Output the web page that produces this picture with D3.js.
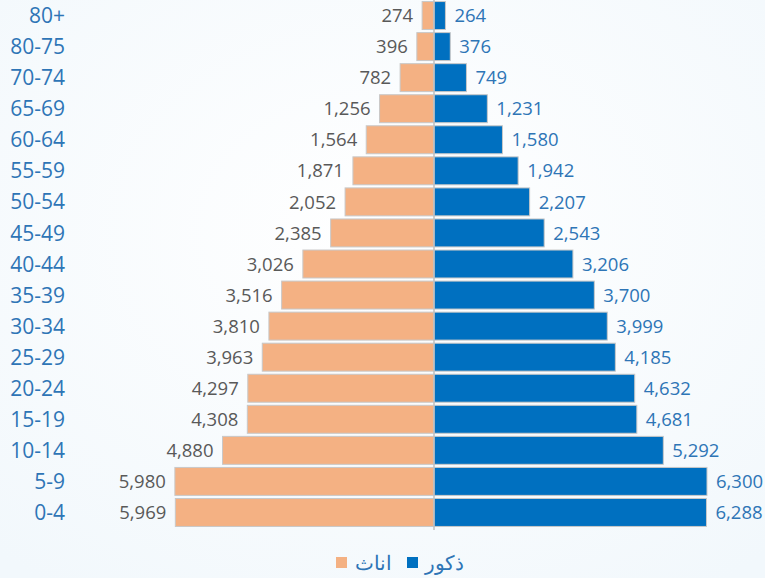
<!DOCTYPE html>
<html>
<head>
<meta charset="utf-8">
<script src="https://cdn.jsdelivr.net/npm/d3@7"></script>
<style>
  body { margin: 0; background: #fff; }
  svg { display: block; font-family: "Open Sans", "Noto Sans", sans-serif; }
</style>
</head>
<body>
<svg id="chart" width="765" height="578"></svg>
<script>
// age groups, top to bottom
const ageGroups = ["80+", "80-75", "70-74", "65-69", "60-64", "55-59", "50-54", "45-49",
    "40-44", "35-39", "30-34", "25-29", "20-24", "15-19", "10-14", "5-9", "0-4"];
const females = [274, 396, 782, 1256, 1564, 1871, 2052, 2385, 3026, 3516, 3810, 3963, 4297, 4308, 4880, 5980, 5969];
const males = [264, 376, 749, 1231, 1580, 1942, 2207, 2543, 3206, 3700, 3999, 4185, 4632, 4681, 5292, 6300, 6288];
const legendLabels = ["ذكور", "اناث"];

const svg = d3.select("#chart"),
    width = +svg.attr("width"),
    height = +svg.attr("height");

const center = 434;
const orange = "#F4B183", blue = "#0070C0";

// background
const defs = svg.append("defs");
const grad = defs.append("radialGradient").attr("id", "bg")
    .attr("cx", "50%").attr("cy", "40%").attr("r", "75%");
grad.append("stop").attr("offset", "0%").attr("stop-color", "#ffffff");
grad.append("stop").attr("offset", "100%").attr("stop-color", "#f2f8fc");
svg.append("rect").attr("width", width).attr("height", height).attr("fill", "url(#bg)");

const y = d3.scaleBand()
    .domain(ageGroups)
    .range([0, 528])
    .paddingInner(0.1)
    .paddingOuter(0.05);

const x = d3.scaleLinear()
    .domain([0, 6300])
    .range([0, 273]);

const rows = ageGroups.map((g, i) => ({ group: g, f: females[i], m: males[i] }));
const fmt = d3.format(",");

// female bars
svg.selectAll("rect.f").data(rows)
    .join("rect")
    .attr("class", "f")
    .attr("x", d => center - x(d.f))
    .attr("y", d => y(d.group))
    .attr("width", d => x(d.f))
    .attr("height", y.bandwidth())
    .attr("fill", orange)
    .attr("stroke", "#c8c8c8")
    .attr("stroke-width", 1);

// male bars
svg.selectAll("rect.m").data(rows)
    .join("rect")
    .attr("class", "m")
    .attr("x", center)
    .attr("y", d => y(d.group))
    .attr("width", d => x(d.m))
    .attr("height", y.bandwidth())
    .attr("fill", blue)
    .attr("stroke", "#c8c8c8")
    .attr("stroke-width", 1);

// center axis line
svg.append("line")
    .attr("x1", center).attr("x2", center)
    .attr("y1", 0).attr("y2", 530)
    .attr("stroke", "#bfbfbf").attr("stroke-width", 1.5);

// age labels
svg.selectAll("text.age").data(rows)
    .join("text")
    .attr("class", "age")
    .attr("x", 65)
    .attr("y", d => y(d.group) + y.bandwidth() / 2)
    .attr("dy", "0.36em")
    .attr("text-anchor", "end")
    .attr("font-size", 21)
    .attr("fill", "#2e75b6")
    .text(d => d.group);

// value labels
svg.selectAll("text.fv").data(rows)
    .join("text")
    .attr("class", "fv")
    .attr("x", d => center - x(d.f) - 9)
    .attr("y", d => y(d.group) + y.bandwidth() / 2)
    .attr("dy", "0.36em")
    .attr("text-anchor", "end")
    .attr("font-size", 18.5)
    .attr("fill", "#595959")
    .text(d => fmt(d.f));

svg.selectAll("text.mv").data(rows)
    .join("text")
    .attr("class", "mv")
    .attr("x", d => center + x(d.m) + 9)
    .attr("y", d => y(d.group) + y.bandwidth() / 2)
    .attr("dy", "0.36em")
    .attr("text-anchor", "start")
    .attr("font-size", 18.5)
    .attr("fill", "#2e75b6")
    .text(d => fmt(d.m));

// legend
const legend = svg.append("g").attr("transform", "translate(0,563)");
legend.append("rect").attr("x", 407).attr("y", -6).attr("width", 11).attr("height", 11).attr("fill", blue);
legend.append("text").attr("x", 425).attr("y", 0).attr("dy", "0.35em")
    .attr("font-size", 20).attr("fill", "#2e75b6").text(legendLabels[0]);
legend.append("rect").attr("x", 336).attr("y", -6).attr("width", 11).attr("height", 11).attr("fill", orange);
legend.append("text").attr("x", 355).attr("y", 0).attr("dy", "0.35em")
    .attr("font-size", 20).attr("fill", "#2e75b6").text(legendLabels[1]);
</script>
</body>
</html>
